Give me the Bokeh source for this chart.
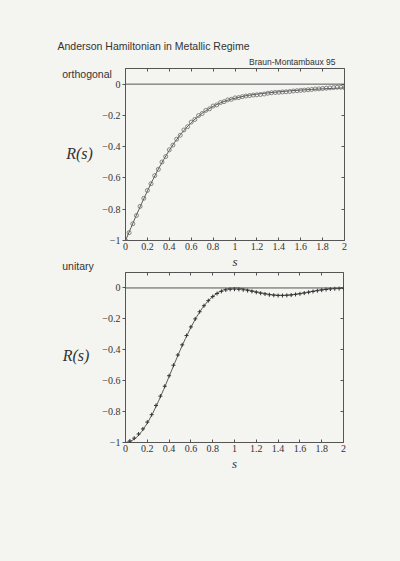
from bokeh.plotting import figure
from bokeh.models import Label, LinearAxis, FixedTicker, CustomJSTickFormatter, Span, Range1d
from bokeh.layouts import column
from bokeh.embed import file_html
from bokeh.resources import INLINE

# ---------------- data ----------------
x_ticks = [0, 0.2, 0.4, 0.6, 0.8, 1.0, 1.2, 1.4, 1.6, 1.8, 2.0]
y_ticks = [-1.0, -0.8, -0.6, -0.4, -0.2, 0.0]

# orthogonal: theory line
ortho_line_s = [0, 0.05, 0.1, 0.15, 0.2, 0.25, 0.3, 0.35, 0.4, 0.45, 0.5, 0.55, 0.6, 0.65, 0.7,
                0.75, 0.8, 0.85, 0.9, 0.95, 1.0, 1.1, 1.2, 1.3, 1.4, 1.5, 1.6, 1.7, 1.8, 1.9, 2.0]
ortho_line_r = [-1.0, -0.918, -0.837, -0.759, -0.683, -0.611, -0.543, -0.481, -0.423, -0.371, -0.324,
                -0.283, -0.246, -0.214, -0.186, -0.163, -0.142, -0.125, -0.111, -0.099, -0.090,
                -0.074, -0.064, -0.056, -0.049, -0.043, -0.038, -0.034, -0.030, -0.027, -0.024]

# orthogonal: numerical data (circles)
ortho_data_s = [0.0, 0.033, 0.067, 0.1, 0.133, 0.167, 0.2, 0.233, 0.267, 0.3, 0.333, 0.367, 0.4,
                0.433, 0.467, 0.5, 0.533, 0.567, 0.6, 0.633, 0.667, 0.7, 0.733, 0.767, 0.8, 0.833,
                0.867, 0.9, 0.933, 0.967, 1.0, 1.033, 1.067, 1.1, 1.133, 1.167, 1.2, 1.233, 1.267,
                1.3, 1.333, 1.367, 1.4, 1.433, 1.467, 1.5, 1.533, 1.567, 1.6, 1.633, 1.667, 1.7,
                1.733, 1.767, 1.8, 1.833, 1.867, 1.9, 1.933, 1.967, 2.0]
ortho_data_r = [-1.000, -0.950, -0.893, -0.840, -0.782, -0.730, -0.680, -0.637, -0.585, -0.545,
                -0.498, -0.463, -0.420, -0.390, -0.352, -0.327, -0.293, -0.272, -0.243, -0.226,
                -0.201, -0.188, -0.168, -0.158, -0.140, -0.133, -0.118, -0.112, -0.101, -0.097,
                -0.088, -0.086, -0.080, -0.076, -0.073, -0.070, -0.068, -0.066, -0.063, -0.058,
                -0.055, -0.053, -0.052, -0.050, -0.049, -0.047, -0.044, -0.042, -0.040, -0.038,
                -0.036, -0.034, -0.031, -0.030, -0.028, -0.026, -0.024, -0.022, -0.020, -0.020,
                -0.022]

# unitary: theory line
unit_line_s = [0, 0.05, 0.1, 0.15, 0.2, 0.25, 0.3, 0.35, 0.4, 0.45, 0.5, 0.55, 0.6, 0.65, 0.7,
               0.75, 0.8, 0.85, 0.9, 0.95, 1.0, 1.05, 1.1, 1.15, 1.2, 1.25, 1.3, 1.35, 1.4, 1.45,
               1.5, 1.55, 1.6, 1.65, 1.7, 1.75, 1.8, 1.85, 1.9, 1.95, 2.0]
unit_line_r = [-1.0, -0.992, -0.968, -0.928, -0.875, -0.811, -0.737, -0.657, -0.573, -0.488,
               -0.405, -0.327, -0.255, -0.190, -0.135, -0.090, -0.055, -0.029, -0.012, -0.003,
               0.0, -0.002, -0.008, -0.016, -0.024, -0.032, -0.039, -0.044, -0.047, -0.047,
               -0.045, -0.041, -0.036, -0.030, -0.023, -0.017, -0.011, -0.006, -0.003, -0.001, 0.0]

# unitary: numerical data (crosses)
unit_data_s = [0.0, 0.04, 0.08, 0.12, 0.16, 0.2, 0.24, 0.28, 0.32, 0.36, 0.4, 0.44, 0.48, 0.52,
               0.56, 0.6, 0.64, 0.68, 0.72, 0.76, 0.8, 0.84, 0.88, 0.92, 0.96, 1.0, 1.04, 1.08,
               1.12, 1.16, 1.2, 1.24, 1.28, 1.32, 1.36, 1.4, 1.44, 1.48, 1.52, 1.56, 1.6, 1.64,
               1.68, 1.72, 1.76, 1.8, 1.84, 1.88, 1.92, 1.96, 2.0]
unit_data_r = [-1.000, -0.990, -0.972, -0.945, -0.912, -0.868, -0.820, -0.760, -0.700, -0.636,
               -0.568, -0.500, -0.434, -0.368, -0.308, -0.252, -0.200, -0.154, -0.115, -0.082,
               -0.056, -0.036, -0.022, -0.013, -0.009, -0.008, -0.009, -0.012, -0.017, -0.022,
               -0.028, -0.034, -0.039, -0.044, -0.047, -0.049, -0.049, -0.048, -0.046, -0.042,
               -0.038, -0.033, -0.028, -0.023, -0.018, -0.014, -0.010, -0.007, -0.005, -0.004,
               -0.004]

title_text = "Anderson Hamiltonian in Metallic Regime"
credit_text = "Braun-Montambaux 95"
panel_names = ["orthogonal", "unitary"]

# ---------------- styling ----------------
BG = "#f4f4f1"
INK = "#333333"
FRAME = "#555555"
SANS = "Liberation Sans"
SERIF = "Liberation Serif"

fmt_code = """
var t = Math.round(tick*10)/10;
var s = (Math.abs(t - Math.round(t)) < 1e-9) ? Math.round(t).toString() : t.toFixed(1);
return s.replace('-', '\u2212');
"""


def style_axis(ax, show_labels=True, tick_in=3, tick_out=0):
    ax.major_tick_in = tick_in
    ax.major_tick_out = tick_out
    ax.minor_tick_in = 0
    ax.minor_tick_out = 0
    ax.axis_line_color = None
    ax.major_tick_line_color = FRAME
    if show_labels:
        ax.major_label_text_font = SERIF
        ax.major_label_text_font_size = "10px"
        ax.major_label_text_color = INK
        ax.formatter = CustomJSTickFormatter(code=fmt_code)
    else:
        ax.major_label_text_font_size = "1px"
        ax.major_label_text_color = None
        ax.major_label_standoff = 0


def make_fig(fw, fh, bl, br, bt, bb):
    p = figure(frame_width=fw, frame_height=fh,
               x_range=Range1d(0, 2), y_range=Range1d(-1, 0.1),
               output_backend="svg", toolbar_location=None,
               min_border_left=bl, min_border_right=br,
               min_border_top=bt, min_border_bottom=bb,
               background_fill_color=BG, border_fill_color=BG,
               outline_line_color=FRAME, outline_line_width=1)
    p.grid.visible = False
    p.xaxis.ticker = FixedTicker(ticks=x_ticks)
    p.yaxis.ticker = FixedTicker(ticks=y_ticks)
    style_axis(p.xaxis[0])
    style_axis(p.yaxis[0], tick_in=0, tick_out=3)
    p.xaxis.major_label_standoff = 2
    p.yaxis.major_label_standoff = 2
    p.xaxis.axis_label = "s"
    p.xaxis.axis_label_text_font = SERIF
    p.xaxis.axis_label_text_font_style = "italic"
    p.xaxis.axis_label_text_font_size = "13px"
    p.xaxis.axis_label_text_color = INK
    p.xaxis.axis_label_standoff = 1
    right = LinearAxis(ticker=FixedTicker(ticks=y_ticks))
    style_axis(right, show_labels=False)
    p.add_layout(right, "right")
    top = LinearAxis(ticker=FixedTicker(ticks=x_ticks))
    style_axis(top, show_labels=False)
    p.add_layout(top, "above")
    p.add_layout(Span(location=0, dimension="width", line_color=FRAME, line_width=1))
    return p


def text_label(x, y, text, font, size, align="left", italic=False):
    return Label(x=x, y=y, text=text, text_font=font, text_font_size=size,
                 text_font_style="italic" if italic else "normal",
                 text_color=INK, text_align=align, text_baseline="middle")


# ---------------- top panel: orthogonal ----------------
p1 = make_fig(219, 172, 125, 56, 68, 32)
p1.line(ortho_line_s, ortho_line_r, line_color="#5a5a5a", line_width=1)
p1.scatter(ortho_data_s, ortho_data_r, marker="circle", size=4, fill_color=None,
           line_color="#6a6a6a", line_width=0.8)

# texts outside the frame live in side panels so that they are not clipped
p1.add_layout(text_label(-0.621, 0.247, title_text, SANS, "10.5px"), "above")
p1.add_layout(text_label(1.918, 0.14, credit_text, SANS, "8.5px", align="right"), "above")
p1.add_layout(text_label(-0.578, 0.066, panel_names[0], SANS, "10.5px"), "left")
p1.add_layout(text_label(-0.578, -1.16, panel_names[1], SANS, "10.5px"), "left")
p1.add_layout(text_label(-0.42, -0.443, "R(s)", SERIF, "16px", align="center", italic=True), "right")

# ---------------- bottom panel: unitary ----------------
p2 = make_fig(218, 170, 120, 62, 0, 119)
p2.line(unit_line_s, unit_line_r, line_color="#5a5a5a", line_width=1)
p2.scatter(unit_data_s, unit_data_r, marker="cross", size=4, line_color="#333333", line_width=1)
p2.add_layout(text_label(-0.454, -0.437, "R(s)", SERIF, "16px", align="center", italic=True), "right")

page = column(p1, p2, spacing=0, styles={"background-color": BG})
open("out.html", "w").write(file_html(page, INLINE))
